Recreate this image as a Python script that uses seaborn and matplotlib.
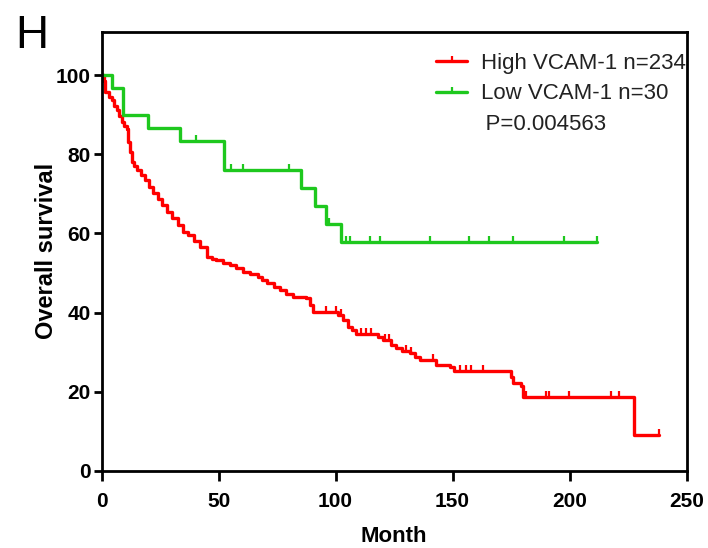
import numpy as np
import pandas as pd
import matplotlib
matplotlib.use("Agg")
import matplotlib.pyplot as plt
from matplotlib.path import Path
from matplotlib.lines import Line2D
import seaborn as sns

# ---- data ----
high_time = [0, 1.0, 1.5, 3, 4.3, 5.5, 6.5, 7.5, 8.6, 9.5, 10.7, 11.5, 12.2, 12.9, 14, 15,
             16.8, 18.6, 20.3, 22.1, 24, 25.7, 28, 30, 32.5, 34.9, 37, 39.5, 42, 44.9, 47,
             49.1, 52, 54.8, 57.5, 60.5, 63.5, 66.9, 68.7, 70.5, 73.5, 76.2, 79, 81.8, 84.5,
             87.5, 89, 90.4, 101, 103, 105.3, 107, 108.9, 118, 120.2, 123.8, 125.9, 128.5,
             131.6, 133.8, 135.9, 143, 148.7, 150.8, 175, 176, 179.3, 180, 227.6, 238.3]
high_surv = [100, 98.5, 95.8, 94.5, 93.7, 92.3, 91.2, 89.7, 88.2, 87.2, 86.5, 83, 80.5, 78.1, 77, 76,
             74.8, 73.5, 71.8, 70.1, 68.6, 67.2, 65.5, 63.8, 62.1, 60.4, 59.5, 58, 56.6, 54.1, 53.6,
             53.3, 52.6, 52, 51.2, 50.3, 49.8, 49.1, 48.2, 47.4, 46.5, 45.7, 44.8, 44, 43.8,
             43.6, 42, 40.2, 39.4, 38.2, 36.4, 35.5, 34.6, 33.8, 33.1, 31.8, 31.0, 30.3,
             29.7, 28.8, 28.0, 26.8, 26.3, 25.1, 23.8, 22.1, 21.3, 18.6, 9.1, 9.1]
high_censor = [96, 100.3, 102.5, 111, 113, 115.3, 121, 123, 130, 132.3, 141.6, 153, 155.8,
               157.9, 162.9, 180.5, 181.5, 189.9, 191.3, 199.9, 217.7, 221.2, 238.3]

low_time = [0, 4.3, 9, 19.9, 33.4, 52.2, 85.3, 91, 96, 102.4, 211.7]
low_surv = [100, 96.7, 90.0, 86.7, 83.3, 76.0, 71.6, 67.0, 62.5, 57.7, 57.7]
low_censor = [40.5, 55.5, 60.4, 80.3, 97.1, 104.5, 106.2, 114.8, 119.0, 140.4, 156.8,
              165.6, 175.6, 197.5, 211.7]

labels = ["High VCAM-1 n=234", "Low VCAM-1 n=30"]
p_text = "P=0.004563"
x_ticks = [0, 50, 100, 150, 200, 250]
y_ticks = [0, 20, 40, 60, 80, 100]
panel = "H"

RED = "#ff0000"
GREEN = "#1ec81e"

sns.set_style("ticks")
plt.rcParams["font.family"] = ["Liberation Sans", "DejaVu Sans"]
plt.rcParams["text.color"] = "black"
plt.rcParams["axes.labelcolor"] = "black"
plt.rcParams["xtick.color"] = "black"
plt.rcParams["ytick.color"] = "black"

fig = plt.figure(figsize=(7.08, 5.48), dpi=100)
ax = fig.add_axes([101.5 / 708, 1 - 470.7 / 548, (686.7 - 101.5) / 708, (470.7 - 31.7) / 548])


def step_val(times, survs, t):
    idx = np.searchsorted(np.asarray(times), t, side="right") - 1
    return np.asarray(survs)[idx]


tick_marker = Path([(0, 0), (0, 1)], [Path.MOVETO, Path.LINETO])

df_high = pd.DataFrame({"Month": high_time, "Survival": high_surv})
df_low = pd.DataFrame({"Month": low_time, "Survival": low_surv})

sns.lineplot(data=df_high, x="Month", y="Survival", ax=ax, color=RED, lw=2.4,
             drawstyle="steps-post", estimator=None, sort=False)
sns.lineplot(data=df_low, x="Month", y="Survival", ax=ax, color=GREEN, lw=2.4,
             drawstyle="steps-post", estimator=None, sort=False)

ax.plot(high_censor, step_val(high_time, high_surv, high_censor), ls="none",
        marker=tick_marker, ms=9, mec=RED, mew=1.6)
ax.plot(low_censor, step_val(low_time, low_surv, low_censor), ls="none",
        marker=tick_marker, ms=9, mec=GREEN, mew=1.6)

ax.set_xlim(0, 250)
ax.set_ylim(0, 111)
ax.set_xticks(x_ticks)
ax.set_yticks(y_ticks)
ax.set_xticklabels([str(v) for v in x_ticks], fontsize=15, fontweight="bold")
ax.set_yticklabels([str(v) for v in y_ticks], fontsize=15, fontweight="bold")
ax.tick_params(axis="x", length=7, width=2, pad=8, direction="out", colors="black")
ax.tick_params(axis="y", length=6, width=2, pad=2, direction="out", colors="black")
for s in ax.spines.values():
    s.set_linewidth(2)
    s.set_color("black")
    s.set_visible(True)

ax.set_xlabel("Month", fontsize=16, fontweight="bold", labelpad=11, color="black")
ax.set_ylabel("Overall survival", fontsize=17, fontweight="bold", labelpad=-2, color="black")

handles = [Line2D([], [], color=RED, lw=2.4, marker=tick_marker, ms=7, mew=1.6),
           Line2D([], [], color=GREEN, lw=2.4, marker=tick_marker, ms=7, mew=1.6),
           Line2D([], [], color="none")]
leg = ax.legend(handles, labels + ["\u2009" + p_text], loc="upper left",
                bbox_to_anchor=(425 / 708, 1 - 42 / 548), bbox_transform=fig.transFigure,
                frameon=False, fontsize=16, handlelength=1.4, handletextpad=0.6,
                labelspacing=0.42, borderpad=0, numpoints=1)
for t in leg.get_texts():
    t.set_color("#222222")

fig.text(15 / 708, 1 - 48 / 548, panel, fontsize=33, va="baseline", ha="left")

fig.savefig("out.png", dpi=100)
